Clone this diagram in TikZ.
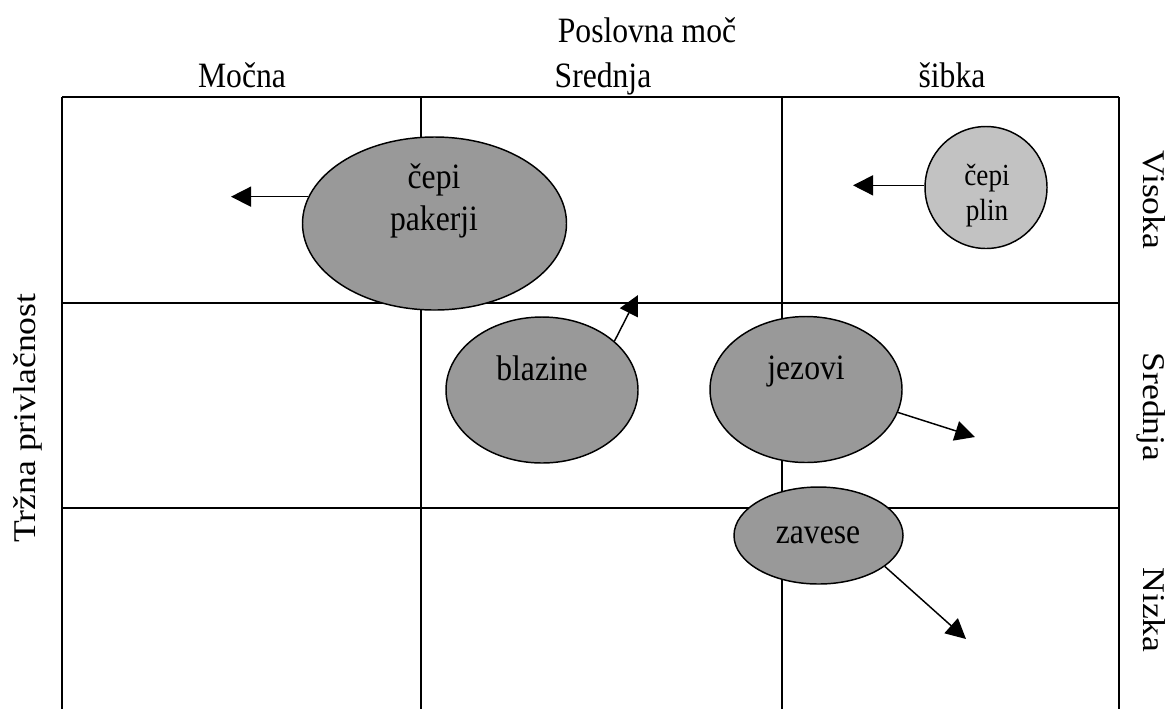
\documentclass[tikz,border=0pt]{standalone}
\usepackage{graphicx}
\usepackage{fontspec}
\setmainfont{Liberation Serif}
\usetikzlibrary{shapes.geometric,arrows.meta}
% the lettering is set slightly taller than it is wide
\newcommand{\tallt}[1]{\scalebox{1.02}[1.15]{#1}}
\newcommand{\longt}[1]{\scalebox{1.15}[1.02]{#1}}
\begin{document}
\begin{tikzpicture}[x=0.75pt,y=-0.75pt,
  gridline/.style={line width=1.5pt},
  blob/.style={ellipse,draw,line width=1.1pt,fill=black!40,inner sep=0pt},
  lightblob/.style={blob,fill=black!24},
  txt/.style={anchor=base,inner sep=0pt,font=\fontsize{23.25}{28}\selectfont},
  smalltxt/.style={anchor=base,inner sep=0pt,font=\fontsize{20}{24}\selectfont},
  move/.style={line width=1.1pt,-{Triangle[length=15pt,width=15pt]}}]
\useasboundingbox (0,0) rectangle (1176,708);

% portfolio grid, open at the bottom
\draw[gridline] (62,97) -- (1119,97);
\draw[gridline] (62,97) -- (62,712);
\draw[gridline] (421,97) -- (421,712);
\draw[gridline] (782,97) -- (782,712);
\draw[gridline] (1119,97) -- (1119,712);
\draw[gridline] (62,303) -- (1119,303);
\draw[gridline] (62,508) -- (1119,508);

% axis titles and category labels
\node[txt] (xtitle) at (647,42) {\tallt{Poslovna moč}};
\node[txt] (c1) at (242,87) {\tallt{Močna}};
\node[txt] (c2) at (603,87) {\tallt{Srednja}};
\node[txt] (c3) at (952,87) {\tallt{šibka}};
\node[txt,rotate=90] (ytitle) at (35,418) {\longt{Tržna privlačnost}};
\node[txt,rotate=-90] (r1) at (1143,200) {\longt{Visoka}};
\node[txt,rotate=-90] (r2) at (1143,407) {\longt{Srednja}};
\node[txt,rotate=-90] (r3) at (1143,610) {\longt{Nizka}};

% product groups
\node[blob,minimum width=198pt,minimum height=129.75pt] (pak) at (434.5,223.5) {};
\node[lightblob,minimum width=91.5pt,minimum height=91.5pt] (plin) at (986,187.5) {};
\node[blob,minimum width=144pt,minimum height=109.5pt] (blz) at (542,390) {};
\node[blob,minimum width=144pt,minimum height=109.5pt] (jez) at (806,389.5) {};
\node[blob,minimum width=126.75pt,minimum height=72.75pt] (zav) at (818.5,535.5) {};

\node[txt] (pak1) at (434,188) {\tallt{čepi}};
\node[txt] (pak2) at (434,230) {\tallt{pakerji}};
\node[smalltxt] (plin1) at (987,185) {\tallt{čepi}};
\node[smalltxt] (plin2) at (987,220) {\tallt{plin}};
\node[txt] (blz1) at (542,380) {\tallt{blazine}};
\node[txt] (jez1) at (806,379) {\tallt{jezovi}};
\node[txt] (zav1) at (818,543) {\tallt{zavese}};

% expected movement of each group
\coordinate (pakTip) at (231,197);
\coordinate (plinTip) at (853,190);
\coordinate (blzTip) at (638,295);
\coordinate (jezTip) at (975,437);
\coordinate (zavTip) at (966,639);
\draw[move] (pak.168) -- (pak.168 -| pakTip);
\draw[move] (plin.178) -- (plin.178 -| plinTip);
\draw[move] (blz.34) -- (blzTip);
\draw[move] (jez.-14) -- (jezTip);
\draw[move] (zav.-25) -- (zavTip);
\end{tikzpicture}
\end{document}
